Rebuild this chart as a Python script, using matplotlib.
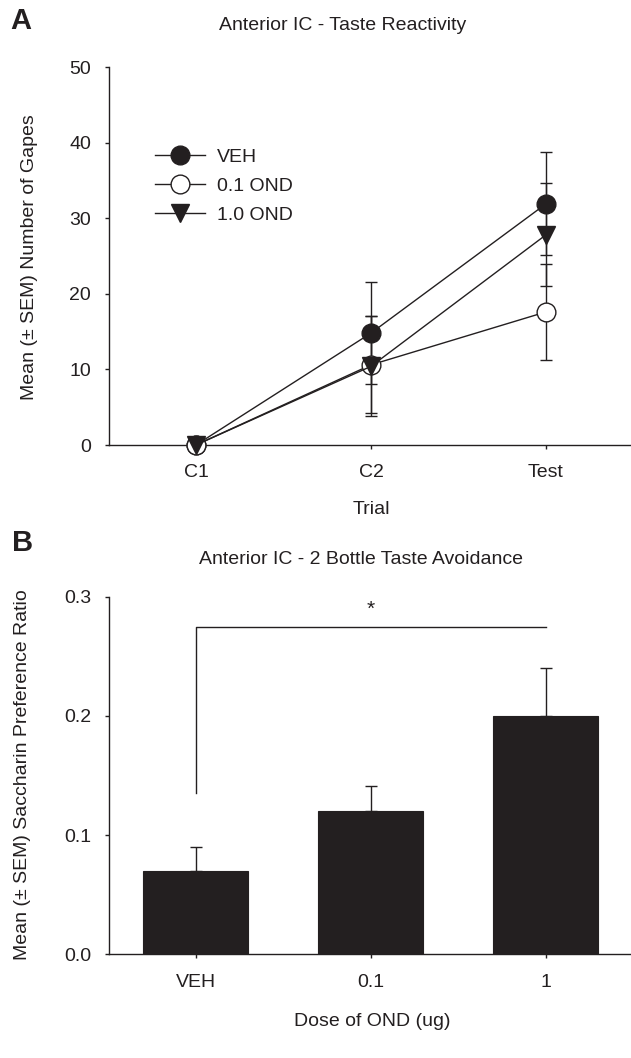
import matplotlib
matplotlib.use('Agg')
import matplotlib.pyplot as plt
import numpy as np
from matplotlib.ticker import FormatStrFormatter

plt.rcParams['font.family'] = ['Liberation Sans', 'DejaVu Sans']

# ---- Panel A data ----
trials = ['C1', 'C2', 'Test']
veh_mean = [0, 14.8, 31.9]
veh_sem = [0, 6.7, 6.8]
ond01_mean = [0, 10.6, 17.6]
ond01_sem = [0, 6.4, 6.4]
ond10_mean = [0, 10.4, 27.8]
ond10_sem = [0, 6.6, 6.8]
series_labels = ['VEH', '0.1 OND', '1.0 OND']

# ---- Panel B data ----
doses = ['VEH', '0.1', '1']
pref_mean = [0.07, 0.12, 0.20]
pref_sem = [0.02, 0.021, 0.04]

INK = '#231f20'
W, H = 631, 1058
fig = plt.figure(figsize=(W / 100, H / 100), dpi=100)


def rect(l, t, r, b):
    return [l / W, 1 - b / H, (r - l) / W, (b - t) / H]


def px(xp, yp):
    return xp / W, 1 - yp / H


FS = 14
TFS = 14

# ================= Panel A =================
axA = fig.add_axes(rect(109, 67, 631, 445))
x = np.arange(len(trials))
specs = [
    (veh_mean, veh_sem, 'o', INK),
    (ond01_mean, ond01_sem, 'o', 'white'),
    (ond10_mean, ond10_sem, 'v', INK),
]
for mean, sem, mk, fc in specs:
    axA.errorbar(x, mean, yerr=sem, fmt='none', ecolor=INK, elinewidth=1.0,
                 capsize=4.3, capthick=1.0, zorder=2)
handles = []
for i, ((mean, sem, mk, fc), lab) in enumerate(zip(specs, series_labels)):
    h, = axA.plot(x, mean, color=INK, lw=1.0, marker=mk, ms=13.5, mfc=fc,
                  mec=INK, mew=1.0, label=lab, zorder=3 + i, clip_on=False)
    handles.append(h)

axA.set_xlim(-0.497, 2.486)
axA.set_ylim(0, 50)
axA.set_yticks([0, 10, 20, 30, 40, 50])
axA.set_xticks(x)
axA.set_xticklabels(trials)

leg = axA.legend(handles=handles, loc='upper left',
                 bbox_to_anchor=((155 - 109) / (631 - 109), (445 - 148) / (445 - 67)),
                 frameon=False, fontsize=FS, numpoints=1, handlelength=2.58,
                 handletextpad=0.62, labelspacing=0.6, borderpad=0, borderaxespad=0)
for t in leg.get_texts():
    t.set_color(INK)

# ================= Panel B =================
axB = fig.add_axes(rect(109, 596.7, 631, 954.3))
xb = np.arange(len(doses))
axB.bar(xb, pref_mean, width=0.6, color=INK, edgecolor=INK, linewidth=0.8, zorder=2)
axB.errorbar(xb, pref_mean, yerr=[np.zeros(len(pref_sem)), pref_sem], fmt='none',
             ecolor=INK, elinewidth=1.0, capsize=4.3, capthick=1.0, zorder=1)
axB.plot([0, 0, 2], [0.135, 0.275, 0.275], color=INK, lw=1.0)
axB.text(1, 0.289, '*', ha='center', va='center', fontsize=15, color=INK)
axB.set_xlim(-0.497, 2.486)
axB.set_ylim(0, 0.3)
axB.set_yticks([0.0, 0.1, 0.2, 0.3])
axB.yaxis.set_major_formatter(FormatStrFormatter('%.1f'))
axB.set_xticks(xb)
axB.set_xticklabels(doses)

for ax in (axA, axB):
    for s in ('top', 'right'):
        ax.spines[s].set_visible(False)
    for s in ('left', 'bottom'):
        ax.spines[s].set_linewidth(1.0)
        ax.spines[s].set_color(INK)
    ax.tick_params(axis='both', direction='out', length=3, width=1.0,
                   colors=INK, labelsize=TFS)
    ax.tick_params(axis='y', pad=10)
    ax.tick_params(axis='x', pad=11)

# ---- Text ----
fig.text(*px(10, 21), 'A', fontsize=21, fontweight='bold', color=INK,
         ha='left', va='center')
fig.text(*px(12, 543), 'B', fontsize=21, fontweight='bold', color=INK,
         ha='left', va='center')
fig.text(*px(343, 26), 'Anterior IC - Taste Reactivity', fontsize=FS,
         ha='center', va='center', color=INK)
fig.text(*px(361, 560), 'Anterior IC - 2 Bottle Taste Avoidance', fontsize=FS,
         ha='center', va='center', color=INK)
fig.text(*px(30, 257), 'Mean (± SEM) Number of Gapes', fontsize=FS,
         rotation=90, ha='center', va='center', color=INK)
fig.text(*px(23, 775), 'Mean (± SEM) Saccharin Preference Ratio', fontsize=FS,
         rotation=90, ha='center', va='center', color=INK)
fig.text(*px(371, 510), 'Trial', fontsize=FS, ha='center', va='center', color=INK)
fig.text(*px(372, 1022), 'Dose of OND (ug)', fontsize=FS, ha='center',
         va='center', color=INK)

fig.savefig('out.png', dpi=100, facecolor='white')
